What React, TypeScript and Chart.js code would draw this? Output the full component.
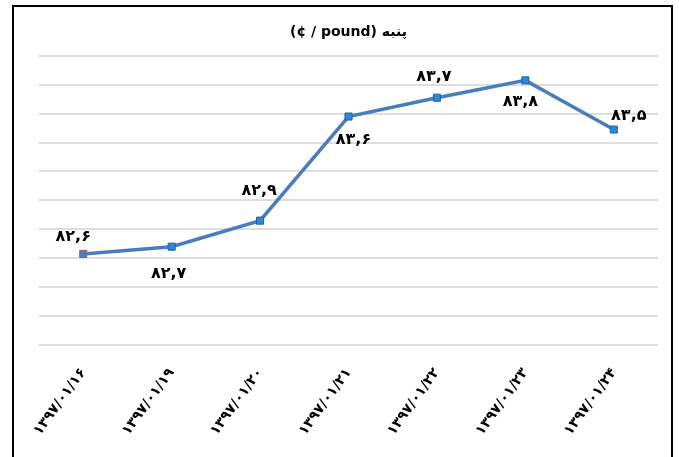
import React, { useEffect, useRef } from 'react';
import { Chart, registerables } from 'chart.js';

Chart.register(...registerables);

// ---- data ----
const chartTitle = '(¢ / pound) پنبه';
const categories = [
  '۱۳۹۷/۰۱/۱۶',
  '۱۳۹۷/۰۱/۱۹',
  '۱۳۹۷/۰۱/۲۰',
  '۱۳۹۷/۰۱/۲۱',
  '۱۳۹۷/۰۱/۲۲',
  '۱۳۹۷/۰۱/۲۳',
  '۱۳۹۷/۰۱/۲۴',
];
const prices = [82.63, 82.68, 82.86, 83.58, 83.71, 83.83, 83.49];
const yMin = 82;
const yMax = 84;
const yStep = 0.2;

// ---- styling (label offsets from each point, px) ----
const labelOffsets: [number, number][] = [
  [-10, -17],
  [-3, 27],
  [-1, -30],
  [5, 23],
  [-3, -21],
  [-5, 21],
  [15, -14],
];

const persianDigits = '۰۱۲۳۴۵۶۷۸۹';
const toPersian = (v: number) =>
  v
    .toFixed(1)
    .replace('.', ',')
    .replace(/[0-9]/g, (d) => persianDigits[Number(d)]);

const FONT = "'DejaVu Sans', sans-serif";

const pointLabelPlugin = {
  id: 'pointLabels',
  afterDatasetsDraw(chart: any) {
    const ctx = chart.ctx;
    const meta = chart.getDatasetMeta(0);
    ctx.save();
    ctx.font = `bold 16px ${FONT}`;
    ctx.fillStyle = '#000';
    ctx.textAlign = 'center';
    ctx.textBaseline = 'middle';
    meta.data.forEach((pt: any, i: number) => {
      const [dx, dy] = labelOffsets[i];
      ctx.fillText(toPersian(prices[i]), pt.x + dx, pt.y + dy);
    });
    ctx.restore();
  },
};

export default function App() {
  const canvasRef = useRef<HTMLCanvasElement | null>(null);

  useEffect(() => {
    if (!canvasRef.current) return;
    const chart = new Chart(canvasRef.current, {
      type: 'line',
      data: {
        labels: categories,
        datasets: [
          {
            data: prices,
            borderColor: '#4a7ebb',
            borderWidth: 3.5,
            pointStyle: 'rect',
            pointRadius: 5,
            pointBackgroundColor: '#2f86d6',
            pointBorderColor: prices.map((_, i) => (i === 0 ? '#c0504d' : '#1d62ad')),
            pointBorderWidth: 1,
            tension: 0,
          },
        ],
      },
      options: {
        responsive: false,
        animation: false,
        devicePixelRatio: 1,
        layout: { padding: { top: 5, left: 39, right: 21, bottom: 0 } },
        plugins: {
          legend: { display: false },
          tooltip: { enabled: false },
          title: {
            display: true,
            text: chartTitle,
            color: '#000',
            font: { family: FONT, size: 14, weight: 'bold' },
            padding: { top: 19, bottom: 15 },
          },
        },
        scales: {
          x: {
            offset: true,
            grid: { display: false },
            border: { display: false },
            ticks: {
              color: '#000',
              font: { family: FONT, size: 14, weight: 'bold' },
              minRotation: 54,
              maxRotation: 54,
              autoSkip: false,
              padding: 12,
            },
            afterFit: (scale: any) => {
              scale.height = 112;
            },
          },
          y: {
            min: yMin,
            max: yMax,
            ticks: { display: false, stepSize: yStep },
            border: { display: false },
            grid: { color: '#dedede', lineWidth: 2, drawTicks: false },
            afterFit: (scale: any) => {
              scale.width = 0;
            },
          },
        },
      },
      plugins: [pointLabelPlugin],
    });
    return () => chart.destroy();
  }, []);

  return (
    <div
      style={{
        position: 'fixed',
        left: 0,
        top: 0,
        width: 679,
        height: 457,
        background: '#fff',
        overflow: 'hidden',
      }}
    >
      <canvas ref={canvasRef} width={679} height={457} style={{ display: 'block' }} />
      <div
        style={{
          position: 'absolute',
          left: 12,
          top: 5,
          width: 661,
          height: 480,
          boxSizing: 'border-box',
          border: '2px solid #000',
          borderBottom: 'none',
          pointerEvents: 'none',
        }}
      />
    </div>
  );
}
